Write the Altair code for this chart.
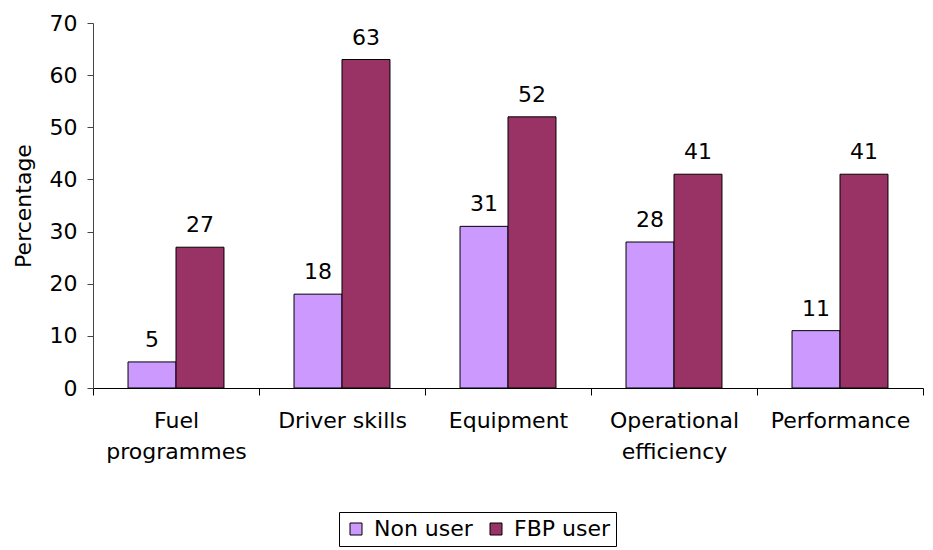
import altair as alt
import pandas as pd

categories = ["Fuel|programmes", "Driver skills", "Equipment", "Operational|efficiency", "Performance"]
series = ["Non user", "FBP user"]
non_user = [5, 18, 31, 28, 11]
fbp_user = [27, 63, 52, 41, 41]
colors = ["#CC99FF", "#993366"]
y_ticks = [0, 10, 20, 30, 40, 50, 60, 70]

rows = []
for c, a, b in zip(categories, non_user, fbp_user):
    rows.append({"category": c, "series": series[0], "value": a})
    rows.append({"category": c, "series": series[1], "value": b})
df = pd.DataFrame(rows)

FONT = "DejaVu Sans"

base = alt.Chart(df).encode(
    x=alt.X(
        "category:N",
        sort=categories,
        scale=alt.Scale(paddingInner=0, paddingOuter=0),
        axis=alt.Axis(
            title=None,
            labelAngle=0,
            labelExpr="split(datum.label, '|')",
            labelFontSize=22,
            labelLineHeight=31,
            labelPadding=15,
            labelColor="black",
            labelFont=FONT,
            tickBand="extent",
            tickSize=7,
            tickColor="black",
            domainColor="black",
            labelBaseline="top",
        ),
    ),
    xOffset=alt.XOffset(
        "series:N",
        sort=series,
        scale=alt.Scale(paddingInner=0, paddingOuter=0.73),
    ),
    y=alt.Y(
        "value:Q",
        scale=alt.Scale(domain=[0, 70], nice=False),
        axis=alt.Axis(
            title="Percentage",
            values=y_ticks,
            grid=False,
            tickSize=6,
            tickColor="#444444",
            domainColor="#444444",
            labelFontSize=22,
            labelColor="black",
            labelFont=FONT,
            labelPadding=10,
            titleFontSize=22,
            titleFontWeight="normal",
            titleFont=FONT,
            titleColor="black",
            titlePadding=14,
        ),
    ),
)

bars = base.mark_bar(stroke="black", strokeWidth=1).encode(
    color=alt.Color(
        "series:N",
        sort=series,
        scale=alt.Scale(domain=series, range=colors),
        legend=alt.Legend(
            title=None,
            orient="none",
            legendX=246,
            legendY=489,
            direction="horizontal",
            strokeColor="black",
            padding=6,
            symbolType="square",
            symbolSize=144,
            symbolStrokeColor="black",
            symbolStrokeWidth=1,
            labelFontSize=22,
            labelFont=FONT,
            labelColor="black",
            columnPadding=12,
            labelOffset=7,
        ),
    )
)

labels = base.mark_text(dy=-15, baseline="alphabetic", fontSize=22, font=FONT, color="black").encode(
    text="value:Q"
)

chart = (
    alt.layer(bars, labels)
    .properties(width=830, height=365, padding={"left": 4, "top": 4, "right": 0, "bottom": 0})
    .configure_view(stroke=None)
)

chart.save("out.html", embed_options={"renderer": "svg", "actions": False})
